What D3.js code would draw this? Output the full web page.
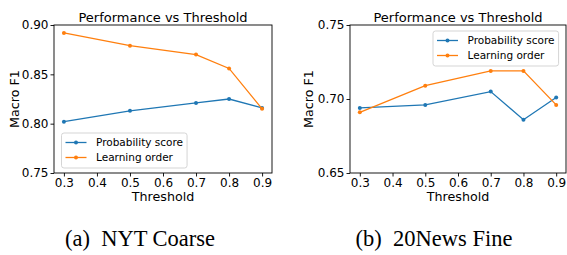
<!DOCTYPE html>
<html>
<head>
<meta charset="utf-8">
<script src="https://cdn.jsdelivr.net/npm/d3@7"></script>
<style>
  html, body { margin: 0; padding: 0; background: #fff; }
  svg { display: block; }
  .tick text { font-family: "DejaVu Sans", sans-serif; font-size: 12px; fill: #000; }
  .tick line { stroke: #000; stroke-width: 0.9; }
  .domain { stroke: none; }
</style>
</head>
<body>
<script>
// values
const thresholds = [0.3, 0.5, 0.7, 0.8, 0.9]
const xTicks = [0.3, 0.4, 0.5, 0.6, 0.7, 0.8, 0.9]
const seriesNames = ['Probability score', 'Learning order']
const colors = ['#1f77b4', '#ff7f0e']

const nytProb = [0.802, 0.813, 0.821, 0.825, 0.816]
const nytOrder = [0.892, 0.879, 0.870, 0.856, 0.815]
const nytYTicks = [0.75, 0.80, 0.85, 0.90]

const newsProb = [0.694, 0.696, 0.705, 0.686, 0.701]
const newsOrder = [0.691, 0.709, 0.719, 0.719, 0.696]
const newsYTicks = [0.65, 0.70, 0.75]

const captions = ['(a)\u2002NYT Coarse', '(b)\u200220News Fine']

const width = 567, height = 255
const svg = d3.select('body').append('svg')
    .attr('width', width)
    .attr('height', height)

function panel(opts) {
    const { left, right, top, bottom } = opts
    const x = d3.scaleLinear().domain([0.27, 0.93]).range([left, right])
    const y = d3.scaleLinear().domain(opts.yDomain).range([bottom, top])
    const g = svg.append('g')

    g.append('g')
        .attr('transform', `translate(0,${bottom})`)
        .call(d3.axisBottom(x).tickValues(xTicks).tickSize(3.5).tickPadding(2).tickFormat(d3.format('.1f')))
    g.append('g')
        .attr('transform', `translate(${left},0)`)
        .call(d3.axisLeft(y).tickValues(opts.yTicks).tickSize(3.5).tickPadding(2).tickFormat(d3.format('.2f')))

    const line = d3.line().x((d, i) => x(thresholds[i])).y(d => y(d))
    opts.series.forEach((vals, k) => {
        g.append('path')
            .attr('d', line(vals))
            .attr('fill', 'none')
            .attr('stroke', colors[k])
            .attr('stroke-width', 1.3)
        g.selectAll(null).data(vals).enter().append('circle')
            .attr('cx', (d, i) => x(thresholds[i]))
            .attr('cy', d => y(d))
            .attr('r', 2)
            .attr('fill', colors[k])
    })

    // frame
    g.append('rect')
        .attr('x', left).attr('y', top)
        .attr('width', right - left).attr('height', bottom - top)
        .attr('fill', 'none').attr('stroke', '#000').attr('stroke-width', 0.9)

    const cx = (left + right) / 2
    g.append('text')
        .attr('x', cx).attr('y', 21.5)
        .attr('text-anchor', 'middle')
        .style('font-family', 'DejaVu Sans').style('font-size', '13px')
        .text('Performance vs Threshold')
    g.append('text')
        .attr('x', cx).attr('y', 201)
        .attr('text-anchor', 'middle')
        .style('font-family', 'DejaVu Sans').style('font-size', '12.7px')
        .text('Threshold')
    g.append('text')
        .attr('transform', `translate(${opts.yLabelX},${(top + bottom) / 2}) rotate(-90)`)
        .attr('text-anchor', 'middle')
        .style('font-family', 'DejaVu Sans').style('font-size', '12.7px')
        .text('Macro F1')

    // legend
    const lg = g.append('g').attr('transform', `translate(${opts.legend[0]},${opts.legend[1]})`)
    const box = lg.append('rect')
        .attr('rx', 2.5)
        .attr('fill', '#fff').attr('fill-opacity', 0.8)
        .attr('stroke', '#d0d0d0').attr('stroke-width', 0.9)
    let maxW = 0
    seriesNames.forEach((name, k) => {
        const yy = 9.5 + k * 15
        lg.append('line')
            .attr('x1', 4).attr('x2', 25).attr('y1', yy).attr('y2', yy)
            .attr('stroke', colors[k]).attr('stroke-width', 1.3)
        lg.append('circle').attr('cx', 14.5).attr('cy', yy).attr('r', 2).attr('fill', colors[k])
        const t = lg.append('text')
            .attr('x', 34.5).attr('y', yy).attr('dy', '0.35em')
            .style('font-family', 'DejaVu Sans').style('font-size', '10.5px')
            .text(name)
        maxW = Math.max(maxW, t.node().getComputedTextLength())
    })
    box.attr('width', 34.5 + maxW + 4).attr('height', 35)

    svg.append('text')
        .attr('x', opts.captionX).attr('y', 245.5)
        .attr('text-anchor', 'middle')
        .style('font-family', '"Liberation Serif", serif').style('font-size', '22.5px')
        .text(opts.caption)
}

panel({
    left: 54, right: 272, top: 25, bottom: 173,
    yDomain: [0.75, 0.90], yTicks: nytYTicks,
    series: [nytProb, nytOrder],
    yLabelX: 19, legend: [61.5, 133],
    caption: captions[0], captionX: 140
})

panel({
    left: 350, right: 566, top: 25, bottom: 173,
    yDomain: [0.65, 0.75], yTicks: newsYTicks,
    series: [newsProb, newsOrder],
    yLabelX: 313, legend: [433, 31],
    caption: captions[1], captionX: 434
})
</script>
</body>
</html>
